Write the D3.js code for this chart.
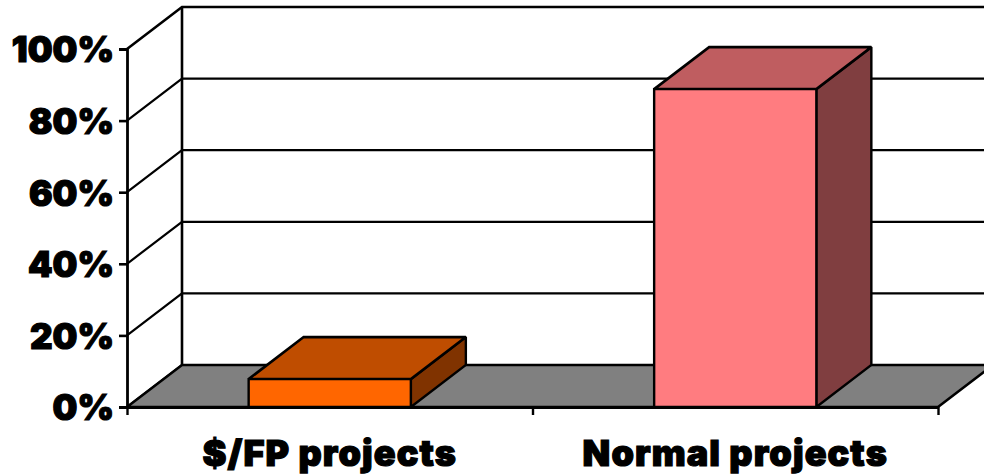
<!DOCTYPE html>
<html>
<head>
<meta charset="utf-8">
<script src="https://cdn.jsdelivr.net/npm/d3@7"></script>
<style>
  html, body { margin: 0; padding: 0; background: #fff; overflow: hidden; }
  svg { display: block; }
  text { font-family: Inter, "Noto Sans", "Liberation Sans", sans-serif; font-weight: 900; fill: #000; stroke: #000; stroke-width: 1.2px; }
</style>
</head>
<body>
<div id="chart"></div>
<script>
var categories = ["$/FP projects", "Normal projects"];
var values = [7.8, 88.8];
var tickValues = [0, 20, 40, 60, 80, 100];
var frontColors = ["#ff6600", "#ff7c80"];
var topColors = ["#bf4d00", "#bf5d60"];
var sideColors = ["#803300", "#803e40"];

var width = 984, height = 475;

// front plane of the 3d box, the back plane is shifted by depth
var x0 = 127, x1 = 938, y0 = 407, y1 = 49;
var depth = { x: 55, y: -42 };

var svg = d3.select("#chart")
  .append("svg")
  .attr("width", width)
  .attr("height", height);

var x = d3.scaleBand()
  .domain(categories)
  .range([x0, x1])
  .paddingInner(0.6)
  .paddingOuter(0.3);

var y = d3.scaleLinear()
  .domain([0, 100])
  .range([y0, y1]);

var line = d3.line();

function poly(points, fill, sw) {
  svg.append("path")
    .attr("d", line(points) + "Z")
    .attr("fill", fill)
    .attr("stroke", "#000")
    .attr("stroke-width", sw)
    .attr("stroke-linejoin", "miter")
    .attr("stroke-miterlimit", 2);
}

// gridlines: back wall plus the slanted piece on the left wall
var grid = svg.append("g");
tickValues.forEach(function (t) {
  grid.append("path")
    .attr("d", line([
      [x0, y(t)],
      [x0 + depth.x, y(t) + depth.y],
      [x1 + depth.x, y(t) + depth.y]
    ]))
    .attr("fill", "none")
    .attr("stroke", "#000")
    .attr("stroke-width", t === 100 ? 2.6 : 2.2);
});

// back wall vertical
svg.append("line")
  .attr("x1", x0 + depth.x).attr("x2", x0 + depth.x)
  .attr("y1", y(0) + depth.y).attr("y2", y(100) + depth.y)
  .attr("stroke", "#000")
  .attr("stroke-width", 2.6);

// floor
poly([
  [x0, y(0)],
  [x0 + depth.x, y(0) + depth.y],
  [x1 + depth.x, y(0) + depth.y],
  [x1, y(0)]
], "#808080", 2.6);

// bars
categories.forEach(function (c, i) {
  var l = x(c), r = x(c) + x.bandwidth();
  var top = y(values[i]), bottom = y(0);
  poly([[r, bottom], [r + depth.x, bottom + depth.y], [r + depth.x, top + depth.y], [r, top]], sideColors[i], 2.4);
  poly([[l, top], [l + depth.x, top + depth.y], [r + depth.x, top + depth.y], [r, top]], topColors[i], 2.6);
  poly([[l, bottom], [l, top], [r, top], [r, bottom]], frontColors[i], 2.4);
});

// y axis
var yAxis = svg.append("g")
  .attr("transform", "translate(" + x0 + ",0)")
  .call(d3.axisLeft(y)
    .tickValues(tickValues)
    .tickFormat(function (d) { return d + "%"; })
    .tickSize(8)
    .tickPadding(5));
yAxis.select(".domain").attr("stroke", "#000").attr("stroke-width", 2.8);
yAxis.selectAll(".tick line").attr("stroke", "#000").attr("stroke-width", 2.6);
yAxis.selectAll("text")
  .attr("dy", "0.37em")
  .style("font-size", "35px");

// x axis, ticks sit on the category boundaries
var xEdges = d3.scaleLinear().domain([0, categories.length]).range([x0, x1]);
var xAxis = svg.append("g")
  .attr("transform", "translate(0," + y0 + ")")
  .call(d3.axisBottom(xEdges)
    .tickValues(d3.range(categories.length + 1))
    .tickFormat("")
    .tickSize(8)
    .tickSizeOuter(0));
xAxis.select(".domain").attr("stroke", "#000").attr("stroke-width", 2.8);
xAxis.selectAll(".tick line").attr("stroke", "#000").attr("stroke-width", 2.4);

// category labels
svg.append("g")
  .selectAll("text")
  .data(categories)
  .enter()
  .append("text")
  .attr("x", function (d) { return x(d) + x.bandwidth() / 2; })
  .attr("y", 466)
  .attr("text-anchor", "middle")
  .style("font-size", "36px")
  .style("letter-spacing", "1.1px")
  .text(function (d) { return d; });
</script>
</body>
</html>
